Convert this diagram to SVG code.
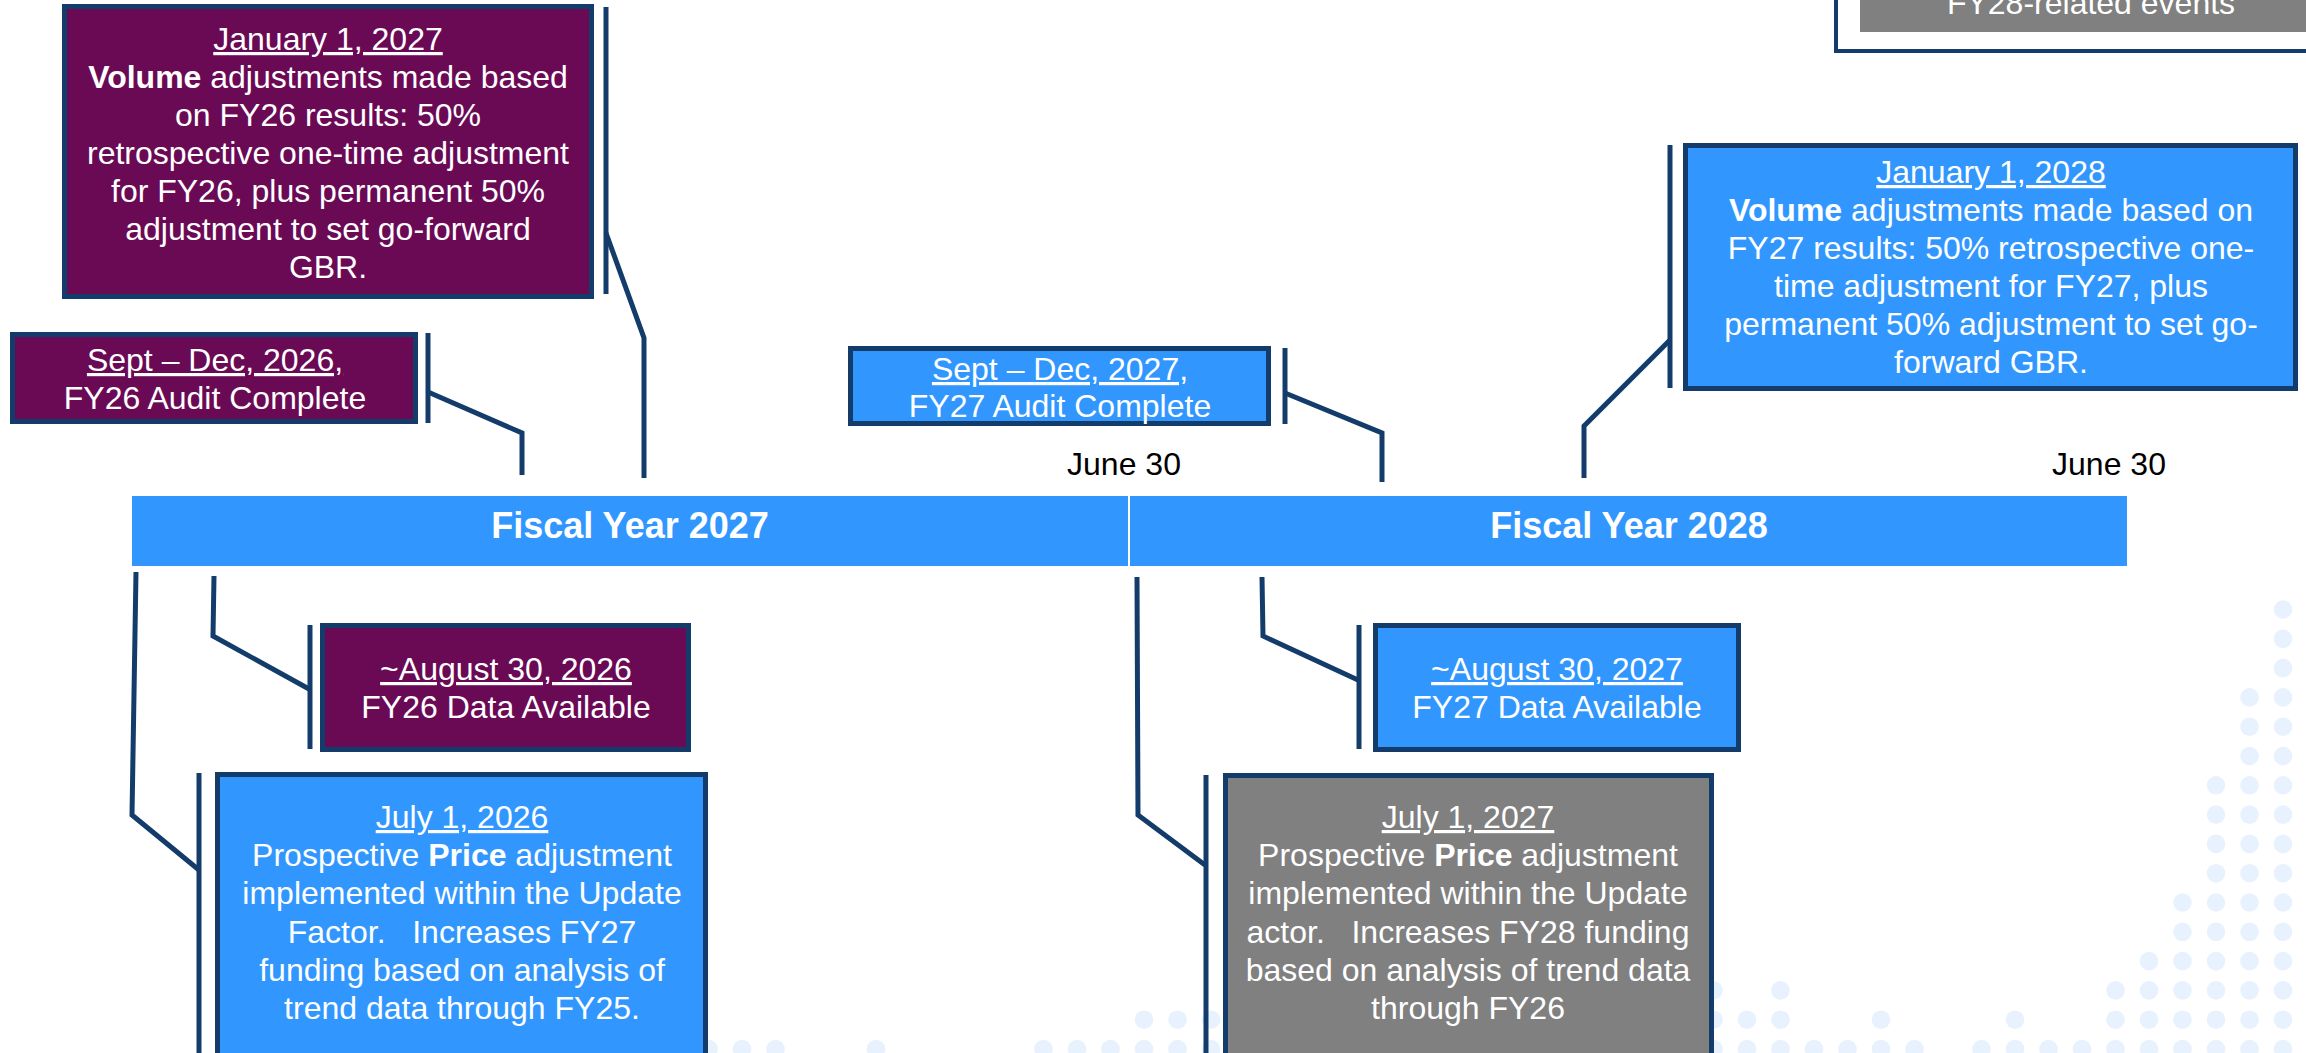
<svg xmlns="http://www.w3.org/2000/svg" width="2306" height="1053" viewBox="0 0 2306 1053">
<style>
.t{font-family:"Liberation Sans",Arial,sans-serif;font-size:32px;fill:#fff;text-anchor:middle}
.k{font-family:"Liberation Sans",Arial,sans-serif;font-size:32px;fill:#000;text-anchor:middle}
.fy{font-family:"Liberation Sans",Arial,sans-serif;font-size:36px;font-weight:bold;fill:#fff;text-anchor:middle}
.u{text-decoration:underline}
.b{font-weight:bold}
.purple{fill:#6A0A55;stroke:#143C6B;stroke-width:5}
.blue{fill:#3197FF;stroke:#143C6B;stroke-width:5}
.gray{fill:#808080;stroke:#143C6B;stroke-width:5}
.ln{fill:none;stroke:#143C6B;stroke-width:5;stroke-linejoin:miter}
.dot{fill:#E8F2FE}
</style>
<rect x="0" y="0" width="2306" height="1053" fill="#fff"/>
<g id="background-dots">
<!-- j0 y=1049 -->
<circle class="dot" cx="2283" cy="1049" r="9.3"/><circle class="dot" cx="2249.5" cy="1049" r="9.3"/><circle class="dot" cx="2216" cy="1049" r="9.3"/><circle class="dot" cx="2182.5" cy="1049" r="9.3"/><circle class="dot" cx="2149" cy="1049" r="9.3"/><circle class="dot" cx="2115.5" cy="1049" r="9.3"/><circle class="dot" cx="2082" cy="1049" r="9.3"/><circle class="dot" cx="2048.5" cy="1049" r="9.3"/><circle class="dot" cx="2015" cy="1049" r="9.3"/><circle class="dot" cx="1981.5" cy="1049" r="9.3"/>
<circle class="dot" cx="1914.5" cy="1049" r="9.3"/><circle class="dot" cx="1881" cy="1049" r="9.3"/><circle class="dot" cx="1847.5" cy="1049" r="9.3"/><circle class="dot" cx="1814" cy="1049" r="9.3"/><circle class="dot" cx="1780.5" cy="1049" r="9.3"/><circle class="dot" cx="1747" cy="1049" r="9.3"/><circle class="dot" cx="1713.5" cy="1049" r="9.3"/>
<circle class="dot" cx="1211" cy="1049" r="9.3"/><circle class="dot" cx="1177.5" cy="1049" r="9.3"/><circle class="dot" cx="1144" cy="1049" r="9.3"/><circle class="dot" cx="1110.5" cy="1049" r="9.3"/><circle class="dot" cx="1077" cy="1049" r="9.3"/><circle class="dot" cx="1043.5" cy="1049" r="9.3"/>
<circle class="dot" cx="876" cy="1049" r="9.3"/><circle class="dot" cx="775.5" cy="1049" r="9.3"/><circle class="dot" cx="742" cy="1049" r="9.3"/><circle class="dot" cx="708.5" cy="1049" r="9.3"/>
<!-- j1 -->
<circle class="dot" cx="2283" cy="1019.7" r="9.3"/><circle class="dot" cx="2249.5" cy="1019.7" r="9.3"/><circle class="dot" cx="2216" cy="1019.7" r="9.3"/><circle class="dot" cx="2182.5" cy="1019.7" r="9.3"/><circle class="dot" cx="2149" cy="1019.7" r="9.3"/><circle class="dot" cx="2115.5" cy="1019.7" r="9.3"/>
<circle class="dot" cx="2015" cy="1019.7" r="9.3"/><circle class="dot" cx="1881" cy="1019.7" r="9.3"/><circle class="dot" cx="1780.5" cy="1019.7" r="9.3"/><circle class="dot" cx="1747" cy="1019.7" r="9.3"/><circle class="dot" cx="1713.5" cy="1019.7" r="9.3"/>
<circle class="dot" cx="1211" cy="1019.7" r="9.3"/><circle class="dot" cx="1177.5" cy="1019.7" r="9.3"/><circle class="dot" cx="1144" cy="1019.7" r="9.3"/>
<!-- j2 -->
<circle class="dot" cx="2283" cy="990.4" r="9.3"/><circle class="dot" cx="2249.5" cy="990.4" r="9.3"/><circle class="dot" cx="2216" cy="990.4" r="9.3"/><circle class="dot" cx="2182.5" cy="990.4" r="9.3"/><circle class="dot" cx="2149" cy="990.4" r="9.3"/><circle class="dot" cx="2115.5" cy="990.4" r="9.3"/>
<circle class="dot" cx="1780.5" cy="990.4" r="9.3"/><circle class="dot" cx="1713.5" cy="990.4" r="9.3"/>
<!-- j3 -->
<circle class="dot" cx="2283" cy="961.1" r="9.3"/><circle class="dot" cx="2249.5" cy="961.1" r="9.3"/><circle class="dot" cx="2216" cy="961.1" r="9.3"/><circle class="dot" cx="2182.5" cy="961.1" r="9.3"/><circle class="dot" cx="2149" cy="961.1" r="9.3"/>
<!-- j4, j5 -->
<circle class="dot" cx="2283" cy="931.8" r="9.3"/><circle class="dot" cx="2249.5" cy="931.8" r="9.3"/><circle class="dot" cx="2216" cy="931.8" r="9.3"/><circle class="dot" cx="2182.5" cy="931.8" r="9.3"/>
<circle class="dot" cx="2283" cy="902.5" r="9.3"/><circle class="dot" cx="2249.5" cy="902.5" r="9.3"/><circle class="dot" cx="2216" cy="902.5" r="9.3"/><circle class="dot" cx="2182.5" cy="902.5" r="9.3"/>
<!-- j6..j9 -->
<circle class="dot" cx="2283" cy="873.2" r="9.3"/><circle class="dot" cx="2249.5" cy="873.2" r="9.3"/><circle class="dot" cx="2216" cy="873.2" r="9.3"/>
<circle class="dot" cx="2283" cy="843.9" r="9.3"/><circle class="dot" cx="2249.5" cy="843.9" r="9.3"/><circle class="dot" cx="2216" cy="843.9" r="9.3"/>
<circle class="dot" cx="2283" cy="814.6" r="9.3"/><circle class="dot" cx="2249.5" cy="814.6" r="9.3"/><circle class="dot" cx="2216" cy="814.6" r="9.3"/>
<circle class="dot" cx="2283" cy="785.3" r="9.3"/><circle class="dot" cx="2249.5" cy="785.3" r="9.3"/><circle class="dot" cx="2216" cy="785.3" r="9.3"/>
<!-- j10..j12 -->
<circle class="dot" cx="2283" cy="756" r="9.3"/><circle class="dot" cx="2249.5" cy="756" r="9.3"/>
<circle class="dot" cx="2283" cy="726.7" r="9.3"/><circle class="dot" cx="2249.5" cy="726.7" r="9.3"/>
<circle class="dot" cx="2283" cy="697.4" r="9.3"/><circle class="dot" cx="2249.5" cy="697.4" r="9.3"/>
<!-- j13..j15 -->
<circle class="dot" cx="2283" cy="668.1" r="9.3"/><circle class="dot" cx="2283" cy="638.8" r="9.3"/><circle class="dot" cx="2283" cy="609.5" r="9.3"/>
</g>
<g id="legend">
<rect x="1836" y="-100" width="520" height="151" fill="#fff" stroke="#143C6B" stroke-width="4"/>
<rect x="1860" y="-60" width="470" height="92" fill="#808080"/>
<text class="t" x="2091" y="14">FY28-related events</text>
</g>
<g id="timeline-bar">
<rect x="132" y="496" width="996" height="70" fill="#3197FF"/>
<rect x="1130" y="496" width="997" height="70" fill="#3197FF"/>
<text class="fy" x="630" y="538">Fiscal Year 2027</text>
<text class="fy" x="1629" y="538">Fiscal Year 2028</text>
</g>
<g id="june30-labels">
<text class="k" x="1124" y="475">June 30</text>
<text class="k" x="2109" y="475">June 30</text>
</g>
<g id="connectors">
<path class="ln" d="M606,7 V294"/>
<path class="ln" d="M606,233 L644,338 V478"/>
<path class="ln" d="M428,333 V423"/>
<path class="ln" d="M428,392 L522,433 V475"/>
<path class="ln" d="M1285,348 V424"/>
<path class="ln" d="M1285,393 L1382,433 V482"/>
<path class="ln" d="M1670,145 V388"/>
<path class="ln" d="M1670,340 L1584,426 V478"/>
<path class="ln" d="M136,572 L132,815 L199,870"/>
<path class="ln" d="M199,773 V1053"/>
<path class="ln" d="M214,576 L213,636 L309,689"/>
<path class="ln" d="M310,625 V749"/>
<path class="ln" d="M1137,577 L1138,815 L1205,865"/>
<path class="ln" d="M1206,775 V1053"/>
<path class="ln" d="M1262,577 L1263,636 L1358,680"/>
<path class="ln" d="M1359,625 V749"/>
</g>
<g id="jan-2027">
<rect class="purple" x="64.5" y="6.5" width="527" height="290"/>
<text class="t" x="328" y="50"><tspan class="u">January 1, 2027</tspan></text>
<text class="t" x="328" y="88"><tspan class="b">Volume</tspan> adjustments made based</text>
<text class="t" x="328" y="126">on FY26 results: 50%</text>
<text class="t" x="328" y="164">retrospective one-time adjustment</text>
<text class="t" x="328" y="202">for FY26, plus permanent 50%</text>
<text class="t" x="328" y="240">adjustment to set go-forward</text>
<text class="t" x="328" y="278">GBR.</text>
</g>
<g id="audit-2026">
<rect class="purple" x="12.5" y="334.5" width="403" height="87"/>
<text class="t" x="215" y="371"><tspan class="u">Sept – Dec, 2026,</tspan></text>
<text class="t" x="215" y="409">FY26 Audit Complete</text>
</g>
<g id="audit-2027">
<rect class="blue" x="850.5" y="348.5" width="418" height="75"/>
<text class="t" x="1060" y="380"><tspan class="u">Sept – Dec, 2027,</tspan></text>
<text class="t" x="1060" y="417">FY27 Audit Complete</text>
</g>
<g id="jan-2028">
<rect class="blue" x="1685.5" y="145.5" width="610" height="243"/>
<text class="t" x="1991" y="183"><tspan class="u">January 1, 2028</tspan></text>
<text class="t" x="1991" y="221"><tspan class="b">Volume</tspan> adjustments made based on</text>
<text class="t" x="1991" y="259">FY27 results: 50% retrospective one-</text>
<text class="t" x="1991" y="297">time adjustment for FY27, plus</text>
<text class="t" x="1991" y="335">permanent 50% adjustment to set go-</text>
<text class="t" x="1991" y="373">forward GBR.</text>
</g>
<g id="aug-2026">
<rect class="purple" x="322.5" y="625.5" width="366" height="124"/>
<text class="t" x="506" y="680"><tspan class="u">~August 30, 2026</tspan></text>
<text class="t" x="506" y="718">FY26 Data Available</text>
</g>
<g id="aug-2027">
<rect class="blue" x="1375.5" y="625.5" width="363" height="124"/>
<text class="t" x="1557" y="680"><tspan class="u">~August 30, 2027</tspan></text>
<text class="t" x="1557" y="718">FY27 Data Available</text>
</g>
<g id="jul-2026">
<rect class="blue" x="217.5" y="774.5" width="488" height="300"/>
<text class="t" x="462" y="828"><tspan class="u">July 1, 2026</tspan></text>
<text class="t" x="462" y="866">Prospective <tspan class="b">Price</tspan> adjustment</text>
<text class="t" x="462" y="904">implemented within the Update</text>
<text class="t" x="462" y="943">Factor.&#160;&#160; Increases FY27</text>
<text class="t" x="462" y="981">funding based on analysis of</text>
<text class="t" x="462" y="1019">trend data through FY25.</text>
</g>
<g id="jul-2027">
<rect class="gray" x="1225.5" y="775.5" width="486" height="300"/>
<text class="t" x="1468" y="828"><tspan class="u">July 1, 2027</tspan></text>
<text class="t" x="1468" y="866">Prospective <tspan class="b">Price</tspan> adjustment</text>
<text class="t" x="1468" y="904">implemented within the Update</text>
<text class="t" x="1468" y="943">actor.&#160;&#160; Increases FY28 funding</text>
<text class="t" x="1468" y="981">based on analysis of trend data</text>
<text class="t" x="1468" y="1019">through FY26</text>
</g>
</svg>
